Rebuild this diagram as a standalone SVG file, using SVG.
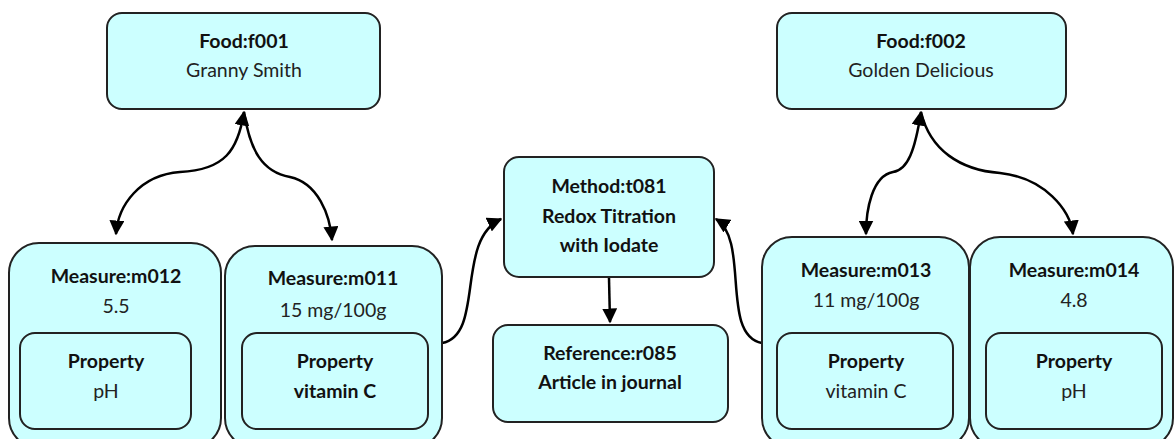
<svg xmlns="http://www.w3.org/2000/svg" width="1176" height="439" viewBox="0 0 1176 439">
<defs>
<marker id="ah" viewBox="0 0 10 10" refX="9" refY="5" markerWidth="6" markerHeight="6" orient="auto-start-reverse" markerUnits="strokeWidth">
<path d="M0,0 L10,5 L0,10 z" fill="#000"/>
</marker>
<style>
.box{fill:#ccffff;stroke:#222;stroke-width:2}
.t{font-family:Lato,"Open Sans",sans-serif;font-size:19.5px;fill:#222;text-anchor:middle}
.b{font-weight:bold;fill:#111}
.c{fill:none;stroke:#000;stroke-width:2.5}
</style>
</defs>
<rect width="1176" height="439" fill="#fff"/>
<g id="connectors">
<path class="c" d="M244,112 C238,150 225,170 180,172 C140,175 118,205 116,234" marker-start="url(#ah)" marker-end="url(#ah)"/>
<path class="c" d="M244,112 C250,150 262,172 290,177 C318,183 330,215 332,240" marker-end="url(#ah)"/>
<path class="c" d="M921,112 C915,150 908,170 893,172 C872,176 866,210 866,234" marker-start="url(#ah)" marker-end="url(#ah)"/>
<path class="c" d="M921,112 C930,150 960,170 1000,173 C1045,178 1070,210 1073,234" marker-end="url(#ah)"/>
<path class="c" d="M442,343 C485,335 455,240 501,219" marker-end="url(#ah)"/>
<path class="c" d="M762,343 C720,335 750,240 716,219" marker-end="url(#ah)"/>
<path class="c" d="M609,278 L610,322" marker-end="url(#ah)"/>
</g>
<g id="food-f001">
<rect class="box" x="107" y="13" width="273" height="96" rx="15"/>
<text class="t b" x="244" y="48">Food:f001</text>
<text class="t" x="244" y="77">Granny Smith</text>
</g>
<g id="food-f002">
<rect class="box" x="777" y="13" width="289" height="96" rx="15"/>
<text class="t b" x="921" y="48">Food:f002</text>
<text class="t" x="921" y="77">Golden Delicious</text>
</g>
<g id="method-t081">
<rect class="box" x="504" y="157" width="210" height="120" rx="15"/>
<text class="t b" x="609" y="193">Method:t081</text>
<text class="t b" x="609" y="223">Redox Titration</text>
<text class="t b" x="609" y="252">with Iodate</text>
</g>
<g id="reference-r085">
<rect class="box" x="493" y="325" width="235" height="97" rx="15"/>
<text class="t b" x="610" y="360">Reference:r085</text>
<text class="t b" x="610" y="389">Article in journal</text>
</g>
<g id="measure-m012">
<rect class="box" x="9" y="243" width="212" height="205" rx="30"/>
<text class="t b" x="116" y="283">Measure:m012</text>
<text class="t" x="116" y="313">5.5</text>
<rect class="box" x="20" y="333" width="171" height="96" rx="15"/>
<text class="t b" x="106" y="368">Property</text>
<text class="t" x="106" y="398">pH</text>
</g>
<g id="measure-m011">
<rect class="box" x="225" y="246" width="217" height="202" rx="30"/>
<text class="t b" x="333" y="285">Measure:m011</text>
<text class="t" x="333" y="317">15 mg/100g</text>
<rect class="box" x="242" y="333" width="186" height="96" rx="15"/>
<text class="t b" x="335" y="368">Property</text>
<text class="t b" x="335" y="398">vitamin C</text>
</g>
<g id="measure-m013">
<rect class="box" x="762" y="237" width="207" height="211" rx="30"/>
<text class="t b" x="866" y="277">Measure:m013</text>
<text class="t" x="866" y="307">11 mg/100g</text>
<rect class="box" x="777" y="333" width="176" height="96" rx="15"/>
<text class="t b" x="866" y="368">Property</text>
<text class="t" x="866" y="398">vitamin C</text>
</g>
<g id="measure-m014">
<rect class="box" x="970" y="237" width="203" height="211" rx="30"/>
<text class="t b" x="1074" y="277">Measure:m014</text>
<text class="t" x="1074" y="307">4.8</text>
<rect class="box" x="986" y="333" width="176" height="96" rx="15"/>
<text class="t b" x="1074" y="368">Property</text>
<text class="t" x="1074" y="398">pH</text>
</g>
</svg>
